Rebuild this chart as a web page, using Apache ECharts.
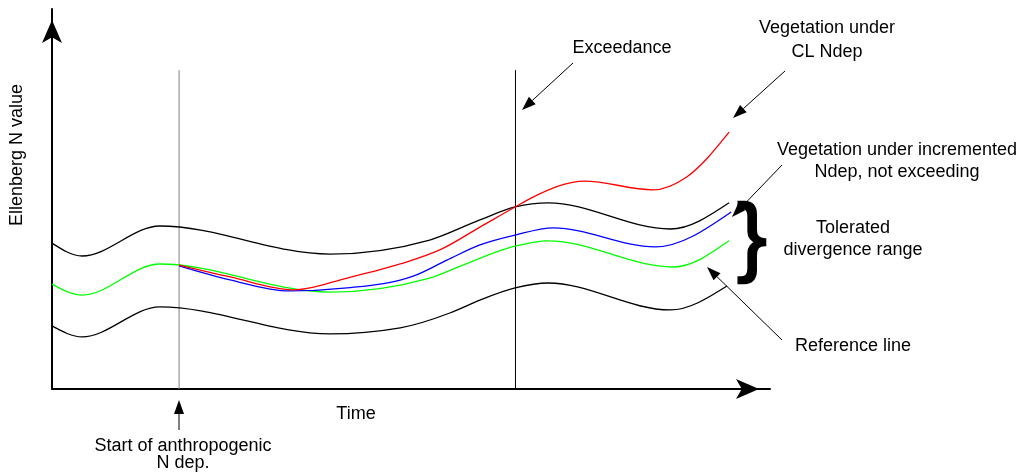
<!DOCTYPE html>
<html>
<head>
<meta charset="utf-8">
<script src="https://cdn.jsdelivr.net/npm/echarts@6/dist/echarts.min.js"></script>
<style>
html,body{margin:0;padding:0;background:#fff;}
#chart{width:1021px;height:475px;}
</style>
</head>
<body>
<div id="chart"></div>
<script>
// Time (0-100) vs Ellenberg N value (0-100), schematic units
const startNdep = 17.7;      // start of anthropogenic N deposition
const exceedance = 64.55;    // exceedance time
const markerTop = 83.9;      // top of vertical marker lines

const upperBound = [[0,38.4],[4.2,35.0],[15.0,42.9],[38.7,35.5],[52.6,39.2],[59.6,44.5],[64.5,47.9],[69.1,49.0],[86.1,42.1],[94.3,49.0]];
const referenceLine = [[0,27.6],[4.2,24.7],[15.0,32.9],[38.7,25.5],[52.6,29.2],[57.2,32.6],[64.5,37.6],[69.1,39.0],[86.5,32.1],[94.3,39.0]];
const lowerBound = [[0,16.6],[4.2,13.7],[15.0,21.6],[38.7,14.5],[48.5,16.1],[55.4,20.0],[59.6,23.4],[64.5,26.6],[69.1,27.9],[86.1,20.8],[94.0,27.1]];
const incremented = [[17.7,32.4],[24.8,28.7],[33.1,25.8],[41.1,26.6],[50.3,29.7],[55.0,33.9],[59.6,37.9],[64.5,40.5],[69.8,42.4],[84.0,37.4],[94.6,46.6]];
const criticalLoad = [[17.7,32.6],[24.8,29.5],[33.8,26.1],[41.1,29.2],[48.5,32.9],[54.0,36.6],[59.6,42.6],[64.5,47.9],[67.0,50.5],[74.2,54.7],[83.7,52.4],[88.4,55.8],[94.3,67.6]];

const FONT = '"Liberation Sans", Arial, sans-serif';
const chart = echarts.init(document.getElementById('chart'), null, {renderer:'canvas'});

// monotone cubic (in x) path through pixel points
function monoPath(pts) {
  const n = pts.length, s = [], t = new Array(n);
  for (let i = 0; i < n - 1; i++) s[i] = (pts[i+1][1] - pts[i][1]) / (pts[i+1][0] - pts[i][0]);
  for (let i = 1; i < n - 1; i++) {
    const h0 = pts[i][0] - pts[i-1][0], h1 = pts[i+1][0] - pts[i][0];
    const p = (s[i-1] * h1 + s[i] * h0) / (h0 + h1);
    t[i] = (Math.sign(s[i-1]) + Math.sign(s[i])) * Math.min(Math.abs(s[i-1]), Math.abs(s[i]), 0.5 * Math.abs(p)) || 0;
  }
  t[0] = n > 2 ? (3 * s[0] - t[1]) / 2 : s[0];
  t[n-1] = n > 2 ? (3 * s[n-2] - t[n-2]) / 2 : s[0];
  let d = 'M' + pts[0][0] + ' ' + pts[0][1];
  for (let i = 0; i < n - 1; i++) {
    const [x0, y0] = pts[i], [x1, y1] = pts[i+1], h = (x1 - x0) / 3;
    d += ' C' + (x0 + h) + ' ' + (y0 + h * t[i]) + ' ' + (x1 - h) + ' ' + (y1 - h * t[i+1]) + ' ' + x1 + ' ' + y1;
  }
  return d;
}

function curve(name, data, color) {
  return {name, type:'custom', coordinateSystem:'cartesian2d', data, silent:true, z:3, clip:false,
    encode:{x:0, y:1},
    renderItem(params, api) {
      if (params.dataIndex !== 0) return null;
      const pts = data.map(p => api.coord(p));
      return {type:'path', shape:{pathData:monoPath(pts)},
        style:{stroke:color, fill:'none', lineWidth:1.3}};
    }};
}
function vline(name, x, color) {
  return {name, type:'line', data:[[x,0],[x,markerTop]], showSymbol:false, silent:true,
    lineStyle:{color, width:1}, z:2};
}
function text(str, x, y, extra) {
  return Object.assign({type:'text', x, y, style:{text:str, fill:'#000', font:'18px '+FONT,
    textAlign:'center', textVerticalAlign:'middle'}}, extra||{});
}
function arrow(x1, y1, x2, y2) {
  const ang = Math.atan2(y2-y1, x2-x1), L = 14, W = 5;
  const bx = x2 - L*Math.cos(ang), by = y2 - L*Math.sin(ang);
  const px = -Math.sin(ang)*W, py = Math.cos(ang)*W;
  return [
    {type:'line', shape:{x1, y1, x2:bx, y2:by}, style:{stroke:'#000', lineWidth:1}},
    {type:'polygon', shape:{points:[[x2,y2],[bx+px,by+py],[bx-px,by-py]]}, style:{fill:'#000'}}
  ];
}

const graphics = [
  text('Time', 356, 414),
  text('Ellenberg N value', 17, 155, {rotation:Math.PI/2}),
  text('Exceedance', 622, 48),
  text('Vegetation under', 827, 28),
  text('CL Ndep', 827, 52),
  text('Vegetation under incremented', 897, 150),
  text('Ndep, not exceeding', 897, 172),
  text('Tolerated', 853, 228),
  text('divergence range', 853, 250),
  text('Reference line', 853, 346),
  text('Start of anthropogenic', 183, 446),
  text('N dep.', 183, 463),
  {type:'text', x:752, y:241, style:{text:'}', fill:'#000', stroke:'#000', lineWidth:2.5,
    font:'88px '+FONT, textAlign:'center', textVerticalAlign:'middle'}},
  ...arrow(179, 430, 179, 400),
  ...arrow(573, 63, 522, 110),
  ...arrow(785, 71, 733, 118),
  ...arrow(782, 165, 732, 217),
  ...arrow(782, 340, 707, 267)
];

const axisCommon = {
  type:'value', min:0, max:100,
  axisLine:{show:true, onZero:false, symbol:['none','arrow'], symbolSize:[15,23], symbolOffset:[0,-11],
    lineStyle:{color:'#000', width:2}},
  axisTick:{show:false}, axisLabel:{show:false}, splitLine:{show:false}
};

chart.setOption({
  animation:false,
  backgroundColor:'#fff',
  grid:{left:52, right:251, top:9, bottom:86, containLabel:false},
  xAxis:Object.assign({}, axisCommon),
  yAxis:Object.assign({}, axisCommon),
  series:[
    vline('Start of anthropogenic N dep.', startNdep, '#808080'),
    vline('Exceedance', exceedance, '#000'),
    curve('Upper bound', upperBound, '#000'),
    curve('Lower bound', lowerBound, '#000'),
    curve('Reference line', referenceLine, '#00ff00'),
    curve('Vegetation under incremented Ndep, not exceeding', incremented, '#0000ff'),
    curve('Vegetation under CL Ndep', criticalLoad, '#ff0000')
  ],
  graphic:graphics
});
</script>
</body>
</html>
